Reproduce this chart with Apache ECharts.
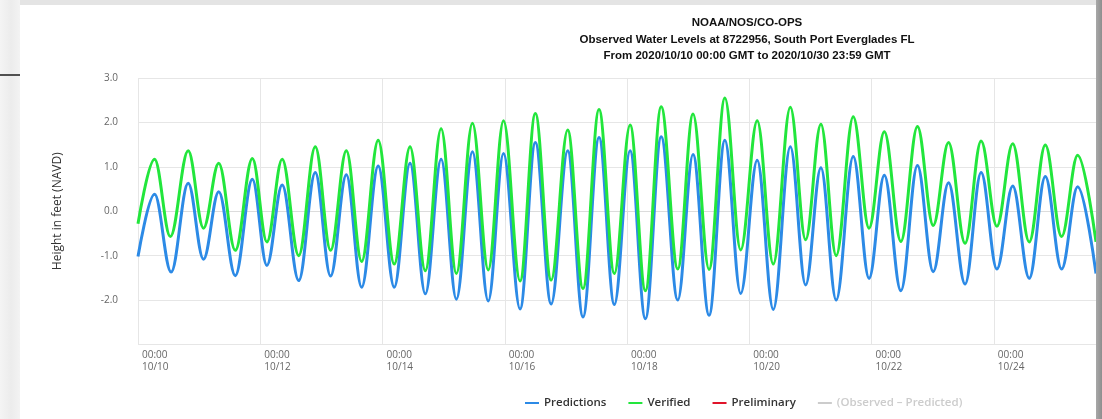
<!DOCTYPE html>
<html>
<head>
<meta charset="utf-8">
<script src="https://cdn.jsdelivr.net/npm/echarts@6/dist/echarts.min.js"></script>
<style>
  html, body { margin: 0; padding: 0; background: #ffffff; }
  #wrap { position: relative; width: 1102px; height: 419px; overflow: hidden; background: #fff; }
  #chart { position: absolute; left: 0; top: 0; width: 1102px; height: 419px; }
  .deco { position: absolute; pointer-events: none; }
</style>
</head>
<body>
<div id="wrap">
  <div id="chart"></div>
  <div class="deco" style="left:0;top:0;width:1102px;height:5px;background:#e4e4e4;"></div>
  <div class="deco" style="left:0;top:0;width:20px;height:419px;background:linear-gradient(to right,#f4f4f4,#ececec 55%,#f3f3f3);"></div>
  <div class="deco" style="left:0;top:74px;width:20px;height:2px;background:#505050;"></div>
  <div class="deco" style="left:1096px;top:0;width:6px;height:419px;background:linear-gradient(to right,#a8a8a8,#8e8e8e);"></div>
</div>
<script>
// Times are hours after 2020/10/10 00:00 GMT (high and low water turning points)
const predHours = [0, 6.5, 13, 19.7, 25.7, 31.7, 38.2, 44.9, 50.6, 56.6, 63.1, 69.6, 75.6, 81.8, 87.8, 94.3, 100.6, 106.8, 112.8, 119.0, 125.0, 131.3, 137.5, 143.5, 150.0, 156.0, 162.2, 168.7, 174.7, 181.0, 187.0, 193.2, 199.2, 205.4, 211.9, 217.9, 224.2, 230.4, 236.6, 243.1, 249.4, 256.1, 262.1, 268.1, 274.1, 280.8, 287.0, 293.0, 299.5, 306.0, 312.2, 318.2, 324.7, 331.0, 337.2, 343.4, 349.9, 356.2, 362.6, 368.9, 376.1];
const predValues = [-1.02, 0.38, -1.37, 0.63, -1.08, 0.44, -1.45, 0.72, -1.22, 0.59, -1.56, 0.87, -1.46, 0.82, -1.71, 1.02, -1.71, 1.08, -1.86, 1.17, -1.98, 1.34, -2.02, 1.30, -2.20, 1.55, -2.09, 1.36, -2.38, 1.66, -2.10, 1.36, -2.42, 1.68, -2.00, 1.28, -2.34, 1.60, -1.85, 1.15, -2.21, 1.45, -1.66, 0.98, -2.00, 1.23, -1.51, 0.81, -1.79, 1.03, -1.36, 0.64, -1.64, 0.87, -1.30, 0.57, -1.51, 0.78, -1.30, 0.55, -1.40];
const verHours = [0, 6.5, 12.7, 19.7, 25.7, 31.7, 38.2, 44.9, 50.6, 56.6, 63.1, 69.6, 75.6, 81.8, 87.8, 94.3, 100.6, 106.8, 112.8, 119.0, 125.0, 131.3, 137.5, 143.5, 150.0, 156.0, 162.2, 168.7, 174.7, 181.0, 187.0, 193.2, 199.2, 205.4, 211.9, 217.9, 224.2, 230.4, 236.6, 243.1, 249.4, 256.1, 262.1, 268.1, 274.1, 280.8, 287.0, 293.0, 299.5, 306.0, 312.2, 318.2, 324.7, 331.0, 337.2, 343.4, 349.9, 356.2, 362.6, 368.9, 376.1];
const verValues = [-0.28, 1.17, -0.57, 1.36, -0.38, 1.08, -0.88, 1.19, -0.69, 1.17, -1.00, 1.45, -0.88, 1.36, -1.13, 1.60, -1.19, 1.45, -1.34, 1.86, -1.40, 1.98, -1.32, 2.04, -1.57, 2.20, -1.55, 1.83, -1.74, 2.29, -1.40, 1.94, -1.79, 2.35, -1.30, 2.19, -1.31, 2.55, -0.87, 2.04, -1.19, 2.34, -0.64, 1.96, -1.00, 2.13, -0.38, 1.79, -0.68, 1.91, -0.32, 1.55, -0.72, 1.58, -0.34, 1.52, -0.69, 1.49, -0.57, 1.26, -0.69];
const seriesNames = ['Predictions', 'Verified', 'Preliminary', '(Observed \u2013 Predicted)'];
const titleLines = ['NOAA/NOS/CO-OPS', 'Observed Water Levels at 8722956, South Port Everglades FL', 'From 2020/10/10 00:00 GMT to 2020/10/30 23:59 GMT'];
const yAxisTitle = 'Height in feet (NAVD)';
const startDay = 10; // 10/10 00:00

const pair = (hs, vs) => hs.map((h, i) => [h, vs[i]]);
const chart = echarts.init(document.getElementById('chart'), null, { renderer: 'canvas' });
const tickFont = 'Open Sans, DejaVu Sans, sans-serif';
chart.setOption({
  animation: false,
  backgroundColor: 'transparent',
  title: {
    text: titleLines[0],
    subtext: titleLines[1] + '\n' + titleLines[2],
    left: 742, top: 11, textAlign: 'center', itemGap: 2,
    textStyle: { fontFamily: 'Liberation Sans, Arial, sans-serif', fontSize: 11.5, fontWeight: 'bold', color: '#111', lineHeight: 14 },
    subtextStyle: { fontFamily: 'Liberation Sans, Arial, sans-serif', fontSize: 11.5, fontWeight: 'bold', color: '#111', lineHeight: 16 }
  },
  legend: {
    left: 520, top: 392, itemGap: 22, itemWidth: 14, itemHeight: 2, icon: 'rect',
    data: seriesNames,
    selected: { [seriesNames[3]]: false },
    inactiveColor: '#cccccc',
    textStyle: { fontFamily: tickFont, fontSize: 11.5, fontWeight: 600, color: '#333' }
  },
  grid: { left: 138, right: 6, top: 78, bottom: 74.5, containLabel: false },
  xAxis: {
    type: 'value', min: 0, max: 376.1, interval: 48,
    axisLine: { show: true, lineStyle: { color: '#dcdcdc' } },
    axisTick: { show: true, length: 9, lineStyle: { color: '#dcdcdc' } },
    splitLine: { show: true, lineStyle: { color: '#e6e6e6' } },
    axisLabel: {
      showMaxLabel: false, align: 'left', margin: 5, padding: [0, 0, 0, 4],
      fontFamily: tickFont, fontSize: 10, color: '#666', lineHeight: 12,
      formatter: v => '00:00\n10/' + String(startDay + Math.round(v / 24))
    }
  },
  yAxis: {
    type: 'value', min: -3, max: 3, interval: 1,
    name: yAxisTitle, nameLocation: 'middle', nameRotate: 90, nameGap: 74,
    nameTextStyle: { fontFamily: tickFont, fontSize: 12, color: '#333' },
    axisLine: { show: false }, axisTick: { show: false },
    splitLine: { show: true, lineStyle: { color: '#e6e6e6' } },
    axisLabel: {
      margin: 20, fontFamily: tickFont, fontSize: 10, color: '#666',
      formatter: v => (v <= -3 ? '' : v.toFixed(1))
    }
  },
  series: [
    { name: seriesNames[0], type: 'line', data: pair(predHours, predValues), showSymbol: false, smooth: 0.36, smoothMonotone: 'x',
      lineStyle: { width: 3, color: '#2c8ae6' }, itemStyle: { color: '#2c8ae6' }, z: 2 },
    { name: seriesNames[1], type: 'line', data: pair(verHours, verValues), showSymbol: false, smooth: 0.36, smoothMonotone: 'x',
      lineStyle: { width: 3, color: '#22e63c' }, itemStyle: { color: '#22e63c' }, z: 3 },
    { name: seriesNames[2], type: 'line', data: [], lineStyle: { color: '#e0142a' }, itemStyle: { color: '#e0142a' } },
    { name: seriesNames[3], type: 'line', data: [], lineStyle: { color: '#cccccc' }, itemStyle: { color: '#cccccc' } }
  ]
});
</script>
</body>
</html>
